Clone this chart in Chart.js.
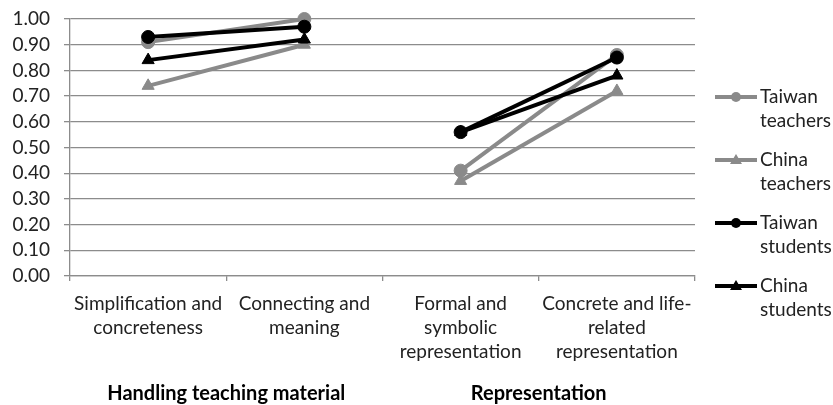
<!DOCTYPE html>
<html>
<head>
<meta charset="utf-8">
<script src="https://cdn.jsdelivr.net/npm/chart.js@4"></script>
<style>
html,body{margin:0;padding:0;background:#fff;}
#wrap{width:833px;height:405px;position:relative;}
</style>
</head>
<body>
<div id="wrap"><canvas id="c" width="833" height="405"></canvas></div>
<script>
const categories = [
  ['Simplification and','concreteness'],
  ['Connecting and','meaning'],
  ['Formal and','symbolic','representation'],
  ['Concrete and life-','related','representation']
];
const groups = ['Handling teaching material','Representation'];
const seriesNames = [['Taiwan','teachers'],['China','teachers'],['Taiwan','students'],['China','students']];
const taiwanTeachers = [0.91, 1.00, 0.41, 0.86];
const chinaTeachers  = [0.74, 0.90, 0.37, 0.72];
const taiwanStudents = [0.93, 0.97, 0.56, 0.85];
const chinaStudents  = [0.84, 0.92, 0.56, 0.78];

const GRAY = '#8a8a8a', BLACK = '#000000';
const FONT = 'Lato, "Open Sans", sans-serif';

function ds(label, data, color, style, order) {
  return {
    label, data, order, clip: false,
    borderColor: color, backgroundColor: color,
    pointBackgroundColor: color, pointBorderColor: color,
    borderWidth: 4, pointStyle: style,
    pointRadius: style === 'triangle' ? 7 : 6.5,
    pointBorderWidth: 1,
    tension: 0,
    segment: { borderColor: ctx => ctx.p0DataIndex === 1 ? 'rgba(0,0,0,0)' : undefined }
  };
}

const legendPlugin = {
  id: 'sideLegend',
  afterDraw(chart) {
    const c = chart.ctx;
    const items = chart.data.datasets;
    const x0 = 715, x1 = 757, tx = 760;
    const ys = [97, 160, 223, 286];
    c.save();
    items.forEach((d, i) => {
      const y = ys[i];
      c.strokeStyle = d.borderColor; c.lineWidth = 4;
      c.beginPath(); c.moveTo(x0, y); c.lineTo(x1, y); c.stroke();
      c.fillStyle = d.borderColor;
      const mx = (x0 + x1) / 2;
      if (d.pointStyle === 'circle') {
        c.beginPath(); c.arc(mx, y, 5, 0, Math.PI * 2); c.fill();
      } else {
        c.beginPath(); c.moveTo(mx, y - 6); c.lineTo(mx + 6, y + 4); c.lineTo(mx - 6, y + 4); c.closePath(); c.fill();
      }
      c.fillStyle = '#222';
      c.font = '19px ' + FONT;
      c.textBaseline = 'middle'; c.textAlign = 'left';
      seriesNames[i].forEach((t, k) => c.fillText(t, tx, y + k * 24));
    });
    c.restore();
  }
};

new Chart(document.getElementById('c'), {
  type: 'line',
  data: {
    labels: categories,
    datasets: [
      ds('Taiwan teachers', taiwanTeachers, GRAY, 'circle', 4),
      ds('China teachers', chinaTeachers, GRAY, 'triangle', 3),
      ds('Taiwan students', taiwanStudents, BLACK, 'circle', 2),
      ds('China students', chinaStudents, BLACK, 'triangle', 1)
    ]
  },
  options: {
    responsive: false, animation: false,
    layout: { padding: { left: 8, right: 138, top: 19, bottom: 0 } },
    plugins: { legend: { display: false }, tooltip: { enabled: false } },
    scales: {
      y: {
        min: 0, max: 1,
        afterFit(s) { s.width = 62; s.paddingTop = 0; s.paddingBottom = 0; },
        ticks: { stepSize: 0.1, autoSkip: false, callback: v => v.toFixed(2), color: '#222', font: { size: 19, family: FONT }, padding: 14 },
        grid: { color: '#8c8c8c', lineWidth: 1.3, tickLength: 6 },
        border: { color: '#8c8c8c', width: 1.3 }
      },
      x: {
        offset: true,
        afterFit(s) { s.height = 95; },
        ticks: { color: '#222', font: { size: 19, family: FONT, lineHeight: 1.26 }, maxRotation: 0, autoSkip: false, padding: 11 },
        grid: { offset: true, drawOnChartArea: false, color: '#8c8c8c', tickLength: 5, lineWidth: 1.3 },
        border: { color: '#8c8c8c', width: 1.3 }
      },
      x2: {
        type: 'category', position: 'bottom', labels: groups, offset: true,
        afterFit(s) { s.height = 34; },
        ticks: { color: '#000', font: { size: 20, weight: 'bold', family: FONT }, padding: 11, maxRotation: 0 },
        grid: { display: false, drawTicks: false }, border: { display: false }
      }
    }
  },
  plugins: [legendPlugin]
});
</script>
</body>
</html>
